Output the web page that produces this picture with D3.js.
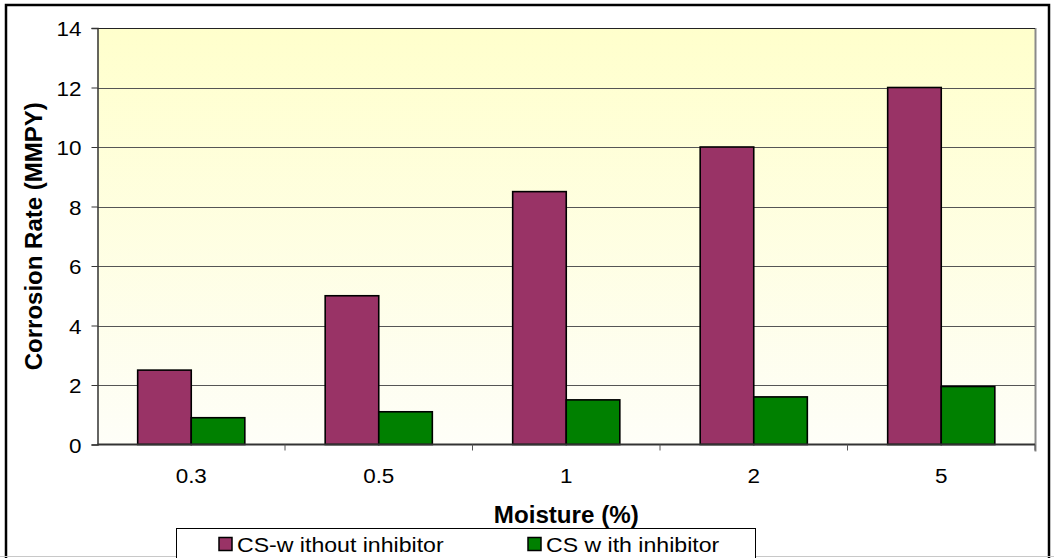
<!DOCTYPE html>
<html>
<head>
<meta charset="utf-8">
<script src="https://cdn.jsdelivr.net/npm/d3@7"></script>
<style>
  body { margin: 0; background: #fff; }
  text { font-family: "Liberation Sans", Arial, sans-serif; fill: #000; }
</style>
</head>
<body>
<script>
// data
var moisture = ['0.3', '0.5', '1', '2', '5'];
var seriesNames = ['CS-w ithout inhibitor', 'CS w ith inhibitor'];
var withoutInhibitor = [2.5, 5.0, 8.5, 10.0, 12.0];
var withInhibitor = [0.9, 1.1, 1.5, 1.6, 1.95];
var yTicks = [0, 2, 4, 6, 8, 10, 12, 14];
var seriesColors = ['#993366', '#008000'];

var W = 1054, H = 558;
var plot = { left: 97.5, right: 1035, top: 28, bottom: 444.5 };
var sx = 1.07; // the source text is a bit wide

var svg = d3.select('body').append('svg')
  .attr('width', W)
  .attr('height', H);

var defs = svg.append('defs');
var grad = defs.append('linearGradient')
  .attr('id', 'bg').attr('x1', 0).attr('y1', 0).attr('x2', 0).attr('y2', 1);
grad.append('stop').attr('offset', '0%').attr('stop-color', '#ffffcc');
grad.append('stop').attr('offset', '100%').attr('stop-color', '#fefef8');

// outer frame
svg.append('rect')
  .attr('x', 6).attr('y', 5)
  .attr('width', 1043).attr('height', 560)
  .attr('fill', '#fff')
  .attr('stroke', '#000')
  .attr('stroke-width', 2.5);
svg.append('line')
  .attr('x1', 0).attr('x2', W)
  .attr('y1', 556.5).attr('y2', 556.5)
  .attr('stroke', '#c8c8c8');

// scales
var y = d3.scaleLinear().domain([0, 14]).range([plot.bottom, plot.top]);
var x0 = d3.scaleBand().domain(moisture).range([plot.left, plot.right]).padding(0);
var bw = x0.bandwidth();
var x1 = d3.scaleBand().domain(seriesNames)
  .range([bw * 0.75 / 3.5, bw - bw * 0.75 / 3.5]).padding(0);

// plot area
svg.append('rect')
  .attr('x', plot.left).attr('y', plot.top)
  .attr('width', plot.right - plot.left)
  .attr('height', plot.bottom - plot.top)
  .attr('fill', 'url(#bg)');

// right edge shadow
svg.append('line')
  .attr('x1', plot.right + 0.5).attr('x2', plot.right + 0.5)
  .attr('y1', plot.top).attr('y2', plot.bottom + 7)
  .attr('stroke', '#8a8a8a').attr('stroke-width', 2);

// gridlines
svg.append('g').selectAll('line')
  .data(yTicks.filter(d => d > 0))
  .enter().append('line')
    .attr('x1', plot.left).attr('x2', plot.right)
    .attr('y1', d => Math.round(y(d)) + 0.5)
    .attr('y2', d => Math.round(y(d)) + 0.5)
    .attr('stroke', d => d == 14 ? '#222' : '#555')
    .attr('stroke-width', 1);

// y axis
var yAxis = svg.append('g')
  .attr('transform', 'translate(' + plot.left + ',0)')
  .call(d3.axisLeft(y).tickValues(yTicks).tickSize(6).tickPadding(10).tickFormat(d3.format('d')));
yAxis.select('.domain').attr('stroke', '#333').attr('stroke-width', 1.5);
yAxis.selectAll('.tick line').attr('stroke', '#333');
yAxis.selectAll('.tick text')
  .style('font-size', '21px')
  .attr('dy', '0.36em')
  .attr('transform', 'translate(-16,0) scale(' + sx + ',1) translate(16,0)');

// bars
var bars = [withoutInhibitor, withInhibitor];
var groups = svg.append('g').selectAll('g')
  .data(moisture)
  .enter().append('g')
    .attr('transform', d => 'translate(' + x0(d) + ',0)');
groups.selectAll('rect')
  .data((d, i) => seriesNames.map((s, k) => ({ series: s, k: k, value: bars[k][i] })))
  .enter().append('rect')
    .attr('x', d => x1(d.series))
    .attr('y', d => y(d.value))
    .attr('width', x1.bandwidth())
    .attr('height', d => y(0) - y(d.value))
    .attr('fill', d => seriesColors[d.k])
    .attr('stroke', '#000')
    .attr('stroke-width', 1.6);

// x axis
var xAxis = svg.append('g')
  .attr('transform', 'translate(0,' + plot.bottom + ')');
xAxis.append('line')
  .attr('x1', plot.left).attr('x2', plot.right)
  .attr('stroke', '#333').attr('stroke-width', 2);
xAxis.selectAll('.xtick')
  .data(moisture.slice(1).concat(['end']))
  .enter().append('line')
    .attr('x1', (d, i) => plot.left + bw * (i + 1))
    .attr('x2', (d, i) => plot.left + bw * (i + 1))
    .attr('y1', 0).attr('y2', 6)
    .attr('stroke', '#555');
xAxis.selectAll('.xlabel')
  .data(moisture)
  .enter().append('text')
    .attr('text-anchor', 'middle')
    .style('font-size', '21px')
    .attr('transform', d => 'translate(' + (x0(d) + bw / 2) + ',38.5) scale(' + sx + ',1)')
    .text(d => d);

// axis titles
svg.append('text')
  .attr('text-anchor', 'middle')
  .style('font-size', '23px').style('font-weight', 'bold')
  .attr('transform', 'translate(' + ((plot.left + plot.right) / 2) + ',523) scale(1.05,1)')
  .text('Moisture (%)');
svg.append('text')
  .attr('text-anchor', 'middle')
  .style('font-size', '24px').style('font-weight', 'bold')
  .attr('transform', 'translate(42,' + ((plot.top + plot.bottom) / 2) + ') rotate(-90)')
  .text('Corrosion Rate (MMPY)');

// legend
var legend = svg.append('g').attr('transform', 'translate(176,528)');
legend.append('rect')
  .attr('x', 0.5).attr('y', 0.5)
  .attr('width', 579).attr('height', 40)
  .attr('fill', '#fff').attr('stroke', '#000');
var items = legend.selectAll('.item')
  .data(seriesNames)
  .enter().append('g')
    .attr('transform', (d, i) => 'translate(' + [43, 352][i] + ',0)');
items.append('rect')
  .attr('x', 0).attr('y', 9.5)
  .attr('width', 13).attr('height', 13)
  .attr('fill', (d, i) => seriesColors[i])
  .attr('stroke', '#000').attr('stroke-width', 1.5);
items.append('text')
  .style('font-size', '21px')
  .attr('transform', 'translate(18,23.5) scale(1.1,1)')
  .text(d => d);
</script>
</body>
</html>
